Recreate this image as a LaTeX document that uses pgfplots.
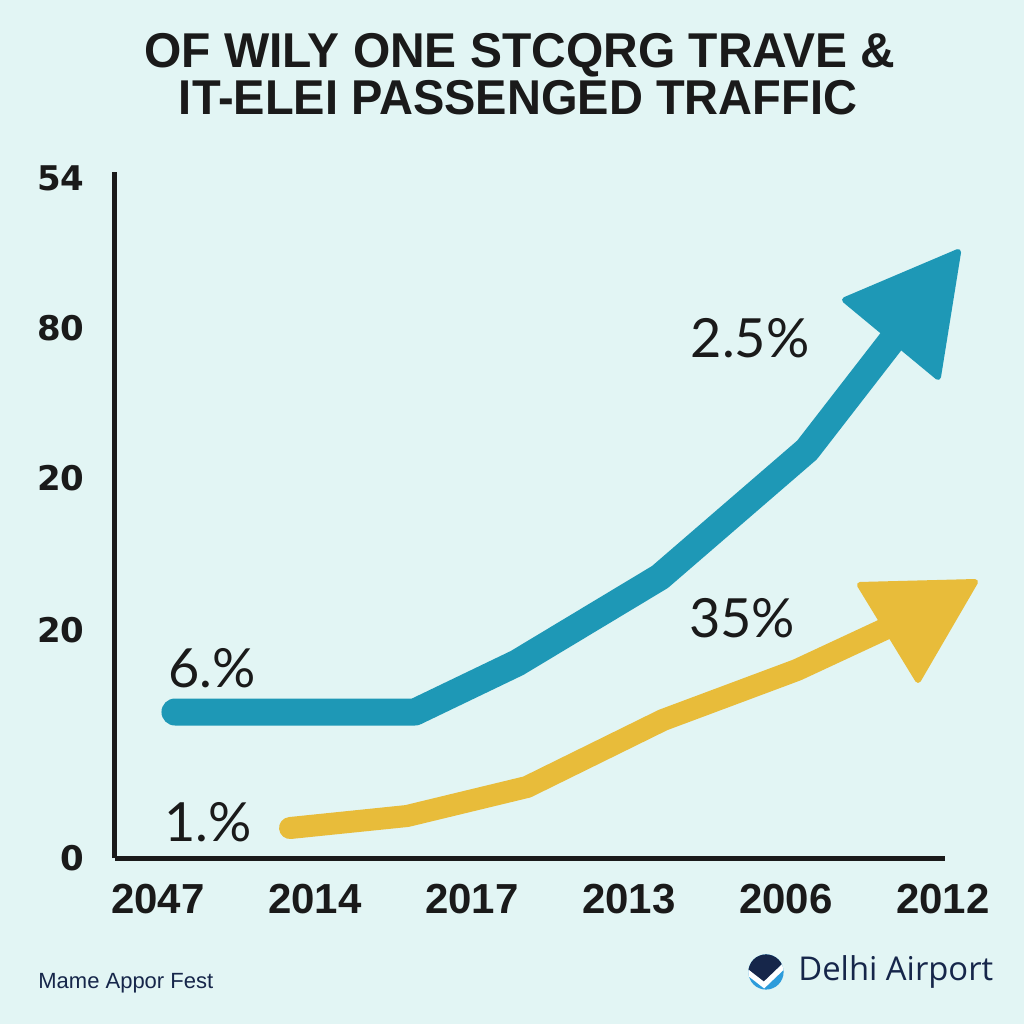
\documentclass[border=0pt]{standalone}
\usepackage{fontspec}
\usepackage{pgfplots}
\pgfplotsset{compat=1.18}
\setmainfont{Liberation Sans}
\newfontfamily\labfont{Lato}
\newfontfamily\tickfont{DejaVu Sans}
\newfontfamily\logofont{Open Sans}
\definecolor{bg}{HTML}{E2F5F4}
\definecolor{bluec}{HTML}{1E98B6}
\definecolor{yellowc}{HTML}{E8BC3A}
\definecolor{axisc}{HTML}{1A1A1A}
\definecolor{navy}{HTML}{16264A}
\definecolor{logoblue}{HTML}{2D9CDB}
\begin{document}
\begin{tikzpicture}
\useasboundingbox (0,0) rectangle (512pt,512pt);
\fill[bg] (0,0) rectangle (512pt,512pt);
\node[anchor=base, inner sep=0pt, text=axisc, font=\fontsize{23.5}{28}\selectfont\bfseries] at (260pt,478pt) {\scalebox{1.02}[1.04]{OF WILY ONE STCQRG TRAVE \&}};
\node[anchor=base, inner sep=0pt, text=axisc, font=\fontsize{23.5}{28}\selectfont\bfseries] at (259pt,454.5pt) {\scalebox{1.0}[1.04]{IT-ELEI PASSENGED TRAFFIC}};
\begin{axis}[
  at={(57.5pt,83pt)}, anchor=south west,
  width=415pt, height=343pt, scale only axis,
  xmin=-0.2739, xmax=5.0127, ymin=0, ymax=100,
  axis lines=left, axis line style={-, line width=2.5pt, draw=axisc},
  clip=false,
  xtick={0,1,2,3,4,5}, xticklabels={2047,2014,2017,2013,2006,2012},
  ytick={0,33.24,55.39,77.26,99.13}, yticklabels={0,20,20,80,54},
  major tick length=0pt, tick style={draw=none},
  xticklabel style={font=\fontsize{21}{24}\selectfont\bfseries, text=axisc, anchor=base, inner sep=0pt, yshift=-27.5pt},
  yticklabel style={font=\tickfont\fontsize{17}{20}\selectfont\bfseries, text=axisc, anchor=east, inner sep=0pt, xshift=-15pt},
]
% blue series
\addplot[draw=bluec, line width=13.5pt, line cap=round, line join=round, no markers]
  coordinates {(0.108,21.28) (1.637,21.28) (2.287,28.43) (3.197,40.96) (4.134,59.48) (4.726,76.97)};
\addplot[fill=bluec, draw=bluec, line width=3pt, line join=round, no markers]
  coordinates {(5.096,88.34) (4.376,81.34) (4.968,70.12)} -- cycle;
% yellow series
\addplot[draw=yellowc, line width=11pt, line cap=round, line join=round, no markers]
  coordinates {(0.841,4.37) (1.586,6.12) (2.350,10.35) (3.217,20.12) (4.070,27.41) (4.726,34.40)};
\addplot[fill=yellowc, draw=yellowc, line width=3pt, line join=round, no markers]
  coordinates {(5.204,40.23) (4.471,39.80) (4.841,25.95)} -- cycle;
% labels
\node[font=\labfont\fontsize{27}{30}\selectfont, text=axisc] at (axis cs:3.771,75.80) {2.5\%};
\node[font=\labfont\fontsize{27}{30}\selectfont, text=axisc] at (axis cs:3.720,34.99) {35\%};
\node[font=\labfont\fontsize{27}{30}\selectfont, text=axisc] at (axis cs:0.344,27.70) {6.\%};
\node[font=\labfont\fontsize{27}{30}\selectfont, text=axisc] at (axis cs:0.318,5.25) {1.\%};
\end{axis}
% footer
\node[anchor=west, inner sep=0pt, text=navy, font=\fontsize{11}{13}\selectfont] at (19pt,20.5pt) {Mame Appor Fest};
% logo
\begin{scope}[shift={(383pt,26pt)}]
  \begin{scope}
    \clip (0,0) circle (8.8pt);
    \fill[logoblue] (-10pt,-10pt) rectangle (10pt,10pt);
    \fill[navy] (-10pt,2pt) -- (-1pt,-5pt) -- (10pt,6pt) -- (10pt,10pt) -- (-10pt,10pt) -- cycle;
    \draw[white, line width=2.6pt, line join=miter] (-10pt,0.5pt) -- (-1pt,-6.5pt) -- (10pt,4pt);
  \end{scope}
\end{scope}
\node[anchor=west, inner sep=0pt, text=navy, font=\logofont\fontsize{16.4}{18}\selectfont] at (399pt,26pt) {Delhi Airport};
\end{tikzpicture}
\end{document}
